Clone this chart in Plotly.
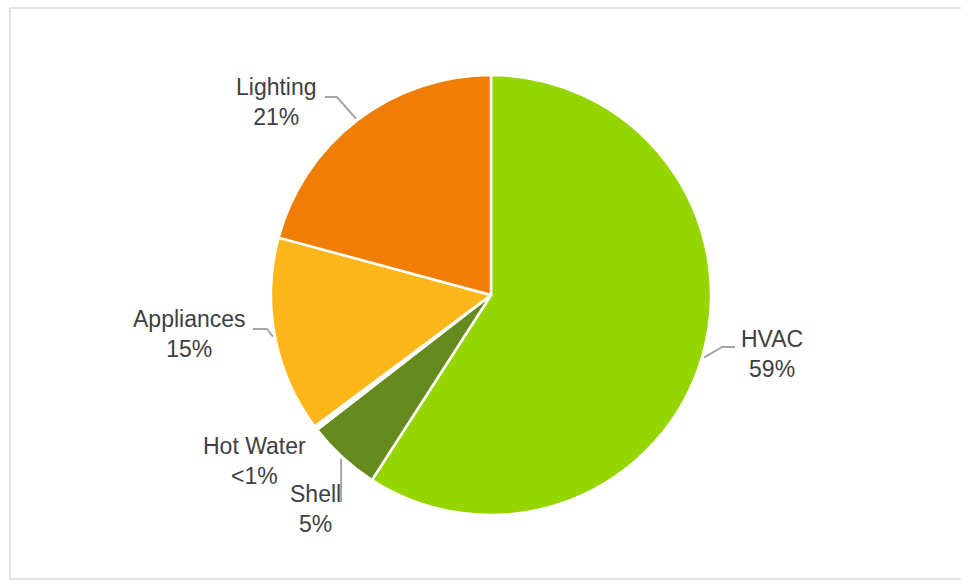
import math
import plotly.graph_objects as go

# ---- data ----
categories = ["HVAC", "Shell", "Hot Water", "Appliances", "Lighting"]
values = [59.1, 5.4, 0.3, 14.4, 20.8]
pct_labels = ["59%", "5%", "<1%", "15%", "21%"]
colors = ["#96D600", "#658B1E", "#FFFFFF", "#FDB71A", "#F07E06"]

W, H = 961, 581
CX, CY, R = 491, 295, 220

# label placement (pixel centres of two-line label) and leader elbows (style)
label_pos = {
    "HVAC": (772, 354),
    "Shell": (315, 509),
    "Hot Water": (255, 461),
    "Appliances": (189, 334),
    "Lighting": (276, 102),
}
leader_elbow = {
    "HVAC": [(722, 347), (735, 347)],
    "Shell": [(None, 502)],
    "Hot Water": None,
    "Appliances": [(267, 329), (253, 329)],
    "Lighting": [(337, 97), (325, 97)],
}

def px(x):
    return x / W

def py(y):
    return 1 - y / H

fig = go.Figure(go.Pie(
    labels=categories,
    values=values,
    sort=False,
    direction="clockwise",
    rotation=0,
    marker=dict(colors=colors, line=dict(color="white", width=2.5)),
    textinfo="none",
    hoverinfo="label+percent",
    domain=dict(x=[px(CX - R), px(CX + R)], y=[py(CY + R), py(CY - R)]),
    showlegend=False,
))

total = sum(values)
cum = 0
shapes = []
annotations = []
for cat, v, lab in zip(categories, values, pct_labels):
    mid = (cum + v / 2) / total * 2 * math.pi
    cum += v
    ex = CX + (R + 2) * math.sin(mid)
    ey = CY - (R + 2) * math.cos(mid)
    elbow = leader_elbow[cat]
    if elbow:
        pts = [(ex, ey)] + [((ex if a is None else a), b) for a, b in elbow]
        path = "M " + " L ".join(f"{px(a):.5f},{py(b):.5f}" for a, b in pts)
        shapes.append(dict(type="path", xref="paper", yref="paper", path=path,
                           line=dict(color="#A6A6A6", width=2)))
    lx, ly = label_pos[cat]
    annotations.append(dict(
        x=px(lx), y=py(ly), xref="paper", yref="paper",
        text=f"{cat}<br>{lab}", showarrow=False,
        xanchor="center", yanchor="middle", align="center",
        font=dict(family="Liberation Sans, Arial, sans-serif", size=23, color="#404040"),
    ))

# chart frame
shapes.append(dict(type="rect", xref="paper", yref="paper",
                   x0=px(10), x1=px(975), y0=py(579), y1=py(8),
                   line=dict(color="#D9D9D9", width=1.5), layer="below"))

fig.update_layout(
    width=W, height=H,
    margin=dict(l=0, r=0, t=0, b=0),
    paper_bgcolor="white",
    plot_bgcolor="white",
    shapes=shapes,
    annotations=annotations,
)

fig.write_html("out.html")
